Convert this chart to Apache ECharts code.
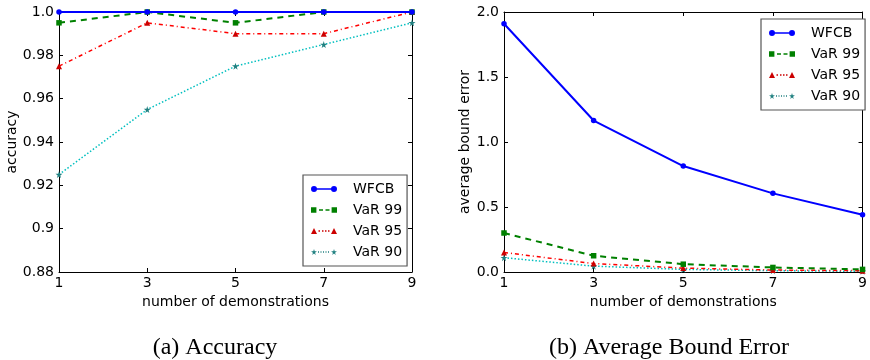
<!DOCTYPE html>
<html><head><meta charset="utf-8">
<script src="https://cdn.jsdelivr.net/npm/echarts@6/dist/echarts.min.js"></script>
<style>html,body{margin:0;padding:0;background:#fff}#c{width:870px;height:360px}</style>
</head><body><div id="c"></div>
<script>
const demos = [1, 3, 5, 7, 9];
const seriesNames = ['WFCB', 'VaR 99', 'VaR 95', 'VaR 90'];
const accWFCB = [1.0, 1.0, 1.0, 1.0, 1.0];
const accVaR99 = [0.995, 1.0, 0.995, 1.0, 1.0];
const accVaR95 = [0.975, 0.995, 0.99, 0.99, 1.0];
const accVaR90 = [0.925, 0.955, 0.975, 0.985, 0.995];
const errWFCB = [1.91, 1.165, 0.815, 0.605, 0.44];
const errVaR99 = [0.30, 0.125, 0.06, 0.035, 0.02];
const errVaR95 = [0.15, 0.065, 0.03, 0.015, 0.01];
const errVaR90 = [0.11, 0.045, 0.02, 0.01, 0.005];
const captions = ['(a) Accuracy', '(b) Average Bound Error'];

const STAR = 'path://M50,0 L61,35 L98,35 L68,57 L79,91 L50,70 L21,91 L32,57 L2,35 L39,35 Z';
const styles = [
  {color:'#0000ff', mc:'#0000ff', type:'solid', sym:'circle', size:5.5, w:2},
  {color:'#008000', mc:'#008000', type:[6,5], sym:'rect', size:5.5, w:2},
  {color:'#ff0000', mc:'#cc0000', type:[4,3,1,3], sym:'triangle', size:6, w:1.5},
  {color:'#00bfbf', mc:'#208080', type:[1.5,2], sym:STAR, size:7, w:1.5}
];
// legend icon shapes (line with a marker at each end), 26 x 6 units
function seg(x1,x2){return `M${x1},2.3 L${x2},2.3 L${x2},3.7 L${x1},3.7 Z `;}
function circ(cx){return `M${cx-3},3 A3,3 0 1,1 ${cx+3},3 A3,3 0 1,1 ${cx-3},3 Z `;}
function sq(x){return `M${x},0.3 L${x+5.4},0.3 L${x+5.4},5.7 L${x},5.7 Z `;}
function tri(x){return `M${x},6 L${x+3},0 L${x+6},6 Z `;}
function star(x){const p=[[3,0],[3.7,2.1],[5.9,2.1],[4.1,3.4],[4.7,5.5],[3,4.2],[1.3,5.5],[1.9,3.4],[0.1,2.1],[2.3,2.1]];
  return 'M'+p.map(q=>`${(x+q[0]).toFixed(2)},${(q[1]*6/5.5).toFixed(2)}`).join(' L')+' Z ';}
const legendIcons = [
  'path://' + circ(3) + circ(23) + seg(3,23),
  'path://' + sq(0) + sq(20.6) + seg(8,12) + seg(14.5,18.5),
  'path://' + tri(0) + tri(20) + seg(7.5,9) + seg(11,12.5) + seg(14,15.5) + seg(17,18.5),
  'path://' + star(0) + star(20) + seg(7,8) + seg(9.5,10.5) + seg(12,13) + seg(14.5,15.5) + seg(17,18)
];
const FONT = 'DejaVu Sans';
const FS = 14;
const pair = arr => demos.map((x,i)=>[x, arr[i]]);
function mk(name, data, gi, si){
  const s = styles[si];
  return {name, type:'line', xAxisIndex:gi*2, yAxisIndex:gi*2, data:pair(data),
    symbol:s.sym, symbolSize:s.size, clip:false, animation:false,
    lineStyle:{color:s.color, width:s.w, type:s.type},
    itemStyle:{color:s.mc, borderWidth:0}, z: 10-si};
}
const grids = [
  {left:59, top:12, width:353, height:260},
  {left:504, top:12, width:364, height:260}
];
const xAxes = [], yAxes = [];
grids.forEach((g,gi)=>{
  xAxes.push({gridIndex:gi, type:'value', min:1, max:9, interval:2, position:'bottom',
    name:'number of demonstrations', nameLocation:'middle', nameGap:14,
    nameTextStyle:{fontFamily:FONT, fontSize:FS, color:'#000'},
    axisLine:{show:true, onZero:false, lineStyle:{color:'#000', width:1}},
    axisTick:{inside:true, length:4, lineStyle:{color:'#000'}},
    axisLabel:{fontFamily:FONT, fontSize:FS, color:'#000', margin:4},
    splitLine:{show:false}});
  xAxes.push({gridIndex:gi, type:'value', min:1, max:9, interval:2, position:'top',
    axisLine:{show:true, onZero:false, lineStyle:{color:'#000', width:1}},
    axisTick:{inside:true, length:4, lineStyle:{color:'#000'}},
    axisLabel:{show:false}, splitLine:{show:false}});
});
yAxes.push({gridIndex:0, type:'value', min:0.88, max:1.0, interval:0.02, position:'left',
  name:'accuracy', nameLocation:'middle', nameGap:34,
  nameTextStyle:{fontFamily:FONT, fontSize:FS, color:'#000'},
  axisLine:{show:true, onZero:false, lineStyle:{color:'#000', width:1}},
  axisTick:{show:true, inside:true, length:4, lineStyle:{color:'#000'}},
  axisLabel:{fontFamily:FONT, fontSize:FS, color:'#000', margin:5,
    formatter:v=>Math.abs(v-1)<1e-9?'1.0':String(+v.toFixed(2))},
  splitLine:{show:false}});
yAxes.push({gridIndex:0, type:'value', min:0.88, max:1.0, interval:0.02, position:'right',
  axisLine:{show:true, onZero:false, lineStyle:{color:'#000', width:1}},
  axisTick:{show:true, inside:true, length:4, lineStyle:{color:'#000'}},
  axisLabel:{show:false}, splitLine:{show:false}});
yAxes.push({gridIndex:1, type:'value', min:0, max:2.0, interval:0.5, position:'left',
  name:'average bound error', nameLocation:'middle', nameGap:22,
  nameTextStyle:{fontFamily:FONT, fontSize:FS, color:'#000'},
  axisLine:{show:true, onZero:false, lineStyle:{color:'#000', width:1}},
  axisTick:{show:true, inside:true, length:4, lineStyle:{color:'#000'}},
  axisLabel:{fontFamily:FONT, fontSize:FS, color:'#000', margin:5, formatter:v=>v.toFixed(1)},
  splitLine:{show:false}});
yAxes.push({gridIndex:1, type:'value', min:0, max:2.0, interval:0.5, position:'right',
  axisLine:{show:true, onZero:false, lineStyle:{color:'#000', width:1}},
  axisTick:{show:true, inside:true, length:4, lineStyle:{color:'#000'}},
  axisLabel:{show:false}, splitLine:{show:false}});

const series = [
  mk(seriesNames[0], accWFCB, 0, 0), mk(seriesNames[1], accVaR99, 0, 1),
  mk(seriesNames[2], accVaR95, 0, 2), mk(seriesNames[3], accVaR90, 0, 3),
  mk(seriesNames[0], errWFCB, 1, 0), mk(seriesNames[1], errVaR99, 1, 1),
  mk(seriesNames[2], errVaR95, 1, 2), mk(seriesNames[3], errVaR90, 1, 3)
];
const legendData = seriesNames.map((n,i)=>({name:n, icon:legendIcons[i]}));
const legendBase = {orient:'vertical', data:legendData, borderColor:'#555', borderWidth:1.2,
  padding:[7,5,7,8], itemGap:7, itemWidth:26, itemHeight:6, backgroundColor:'#fff',
  textStyle:{fontFamily:FONT, fontSize:FS, color:'#000', padding:[0,0,0,11], lineHeight:14},
  selectedMode:false};
const chart = echarts.init(document.getElementById('c'), null, {renderer:'canvas'});
chart.setOption({
  animation:false,
  backgroundColor:'#fff',
  title:[
    {text:captions[0], left:210, top:331, textAlign:'center',
     textStyle:{fontFamily:'Liberation Serif', fontSize:24, fontWeight:'normal', color:'#000'}},
    {text:captions[1], left:664, top:331, textAlign:'center',
     textStyle:{fontFamily:'Liberation Serif', fontSize:24, fontWeight:'normal', color:'#000'}}
  ],
  grid:grids,
  xAxis:xAxes, yAxis:yAxes,
  legend:[
    Object.assign({left:303, top:175}, legendBase),
    Object.assign({left:761, top:19}, legendBase)
  ],
  series
});
</script></body></html>
